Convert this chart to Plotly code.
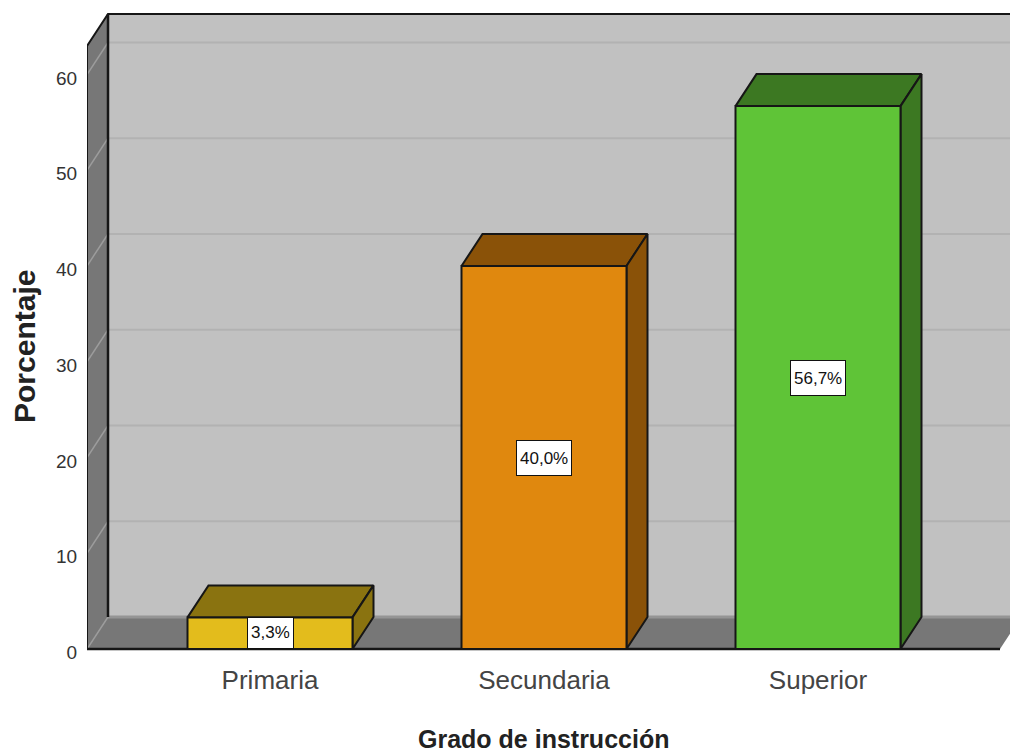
import plotly.graph_objects as go

# Data
categorias = ["Primaria", "Secundaria", "Superior"]
porcentajes = [3.3, 40.0, 56.7]
etiquetas = ["3,3%", "40,0%", "56,7%"]
ticks_y = [0, 10, 20, 30, 40, 50, 60]
posiciones = [0, 1, 2]

# Colours
col_frente = ["#e3bc1c", "#e0880e", "#5fc437"]
col_sombra = ["#8a7310", "#8a5208", "#3c7822"]

# 3D projection and layout constants, in axis units
PX_X = 274.0
PX_Y = 9.575
DX = 21 / PX_X
DY = 32 / PX_Y
ANCHO = 165 / PX_X
X0 = -(270 - 87) / PX_X
X1 = (1000 - 270) / PX_X
XMAX = (1010 - 270) / PX_X
TOPE = (649 - 14) / PX_Y
YMAX = (649 - 10) / PX_Y
YMIN = -5 / PX_Y
DESPL_TICK = 3.5 / PX_Y
NEGRO = "#161616"
ALTO_PX = 644.0
ANCHO_PX = 923.0
Y_BASE = 654.0

fig = go.Figure()


def poly(xs, ys, fill, line=NEGRO, w=2):
    fig.add_trace(go.Scatter(
        x=xs, y=ys, mode="lines", fill="toself", fillcolor=fill,
        line=dict(color=line, width=w), hoverinfo="skip", showlegend=False))


def linea(xs, ys, color, w):
    fig.add_trace(go.Scatter(
        x=xs, y=ys, mode="lines", line=dict(color=color, width=w),
        hoverinfo="skip", showlegend=False))


# Back wall
poly([X0 + DX, X1 + DX, X1 + DX, X0 + DX, X0 + DX],
     [DY, DY, TOPE, TOPE, DY], "#c1c1c1", "#c1c1c1", 0)
# Side wall
poly([X0, X0 + DX, X0 + DX, X0, X0], [0, DY, TOPE, TOPE - DY, 0], "#777777", "#777777", 0)
# Floor
poly([X0, X0 + DX, X1 + DX, X1, X0], [0, DY, DY, 0, 0], "#777777", "#777777", 0)
linea([X0 + DX, X1 + DX], [DY, DY], "#959595", 3)

# Gridlines on back and side wall
for t in ticks_y[1:]:
    linea([X0 + DX, X1 + DX], [t + DY, t + DY], "#b2b2b2", 2)
for t in ticks_y:
    linea([X0, X0 + DX], [t, t + DY], "#9c9c9c", 1.5)

# Wall frame
linea([X0, X0, X0 + DX, X1 + DX], [0, TOPE - DY, TOPE, TOPE], NEGRO, 2)
linea([X0 + DX, X0 + DX], [DY, TOPE], NEGRO, 2.5)
linea([X0, X1], [0, 0], NEGRO, 2.5)

# Bars
for x, v, cf, cs in zip(posiciones, porcentajes, col_frente, col_sombra):
    a, b = x - ANCHO / 2, x + ANCHO / 2
    poly([a, a + DX, b + DX, b, a], [v, v + DY, v + DY, v, v], cs)
    poly([b, b + DX, b + DX, b, b], [0, DY, v + DY, v, 0], cs)
    poly([a, b, b, a, a], [0, 0, v, v, 0], cf)

# Value labels
for x, v, e in zip(posiciones, porcentajes, etiquetas):
    fig.add_annotation(
        x=x, y=v / 2, text=e, showarrow=False, height=min(28, v * PX_Y - 8),
        font=dict(family="Liberation Sans", size=17, color="#111111"),
        bgcolor="#ffffff", bordercolor="#111111", borderwidth=1, borderpad=3)

# Hidden carrier of the tick-label axis (labels sit slightly below the 3D tick position)
fig.add_trace(go.Scatter(x=posiciones, y=porcentajes, yaxis="y2", mode="none",
                         hoverinfo="skip", showlegend=False))

# Axis titles
fig.add_annotation(
    xref="paper", yref="paper", x=(543 - 87) / ANCHO_PX, y=(Y_BASE - 739) / ALTO_PX,
    text="Grado de instrucción", showarrow=False, yanchor="middle",
    font=dict(family="Liberation Sans", size=25, color="#222222", weight="bold"))
fig.add_annotation(
    xref="paper", yref="paper", x=(24 - 87) / ANCHO_PX, y=(Y_BASE - 347) / ALTO_PX,
    text="Porcentaje", showarrow=False, textangle=-90, xanchor="center", yanchor="middle",
    font=dict(family="Liberation Sans", size=30, color="#222222", weight="bold"))

ejes_y = dict(showgrid=False, zeroline=False, showline=False)

fig.update_layout(
    width=1010, height=754, margin=dict(l=87, r=0, t=10, b=100),
    paper_bgcolor="#ffffff", plot_bgcolor="#ffffff", showlegend=False,
    xaxis=dict(
        range=[X0, XMAX], tickvals=posiciones, ticktext=categorias, showgrid=False,
        zeroline=False, showline=False, ticks="outside", ticklen=3, tickcolor="rgba(0,0,0,0)",
        tickfont=dict(family="Liberation Sans", size=26, color="#444444")),
    yaxis=dict(range=[YMIN, YMAX], showticklabels=False, ticks="", **ejes_y),
    yaxis2=dict(
        range=[YMIN + DESPL_TICK, YMAX + DESPL_TICK], overlaying="y", tickvals=ticks_y,
        ticks="outside", ticklen=5, tickcolor="rgba(0,0,0,0)",
        tickfont=dict(family="Liberation Sans", size=19, color="#333333"), **ejes_y),
)

fig.write_html("out.html", config={"displayModeBar": False},
               post_script="document.body.style.margin='0';document.body.style.overflow='hidden';")
